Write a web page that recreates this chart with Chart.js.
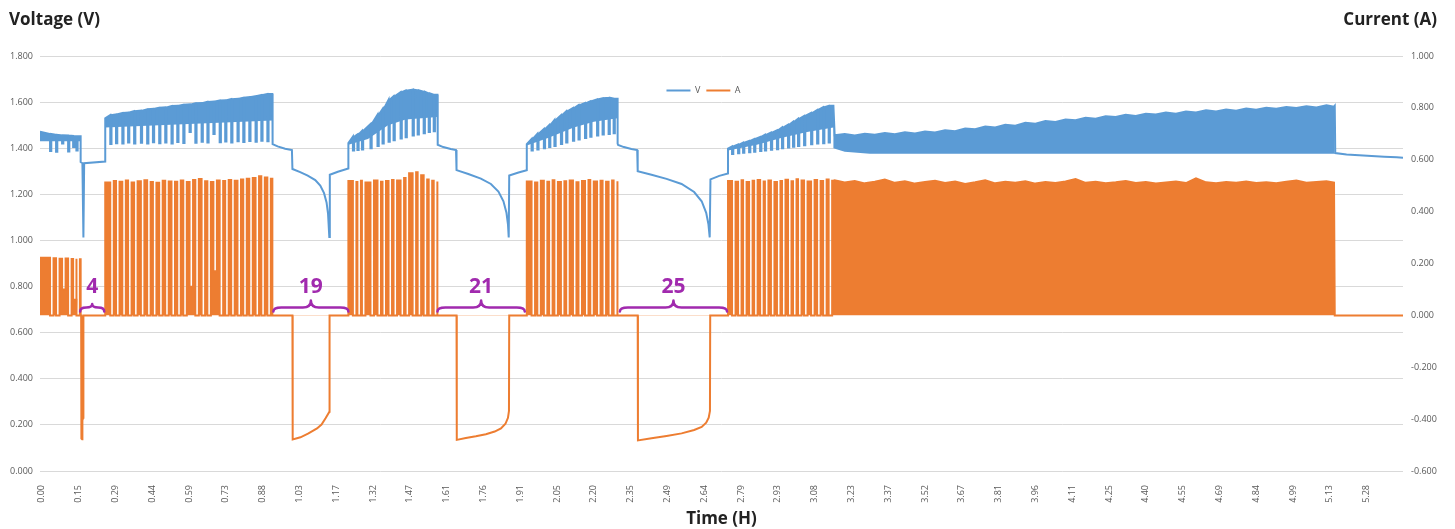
<!DOCTYPE html>
<html><head><meta charset="utf-8">
<script src="https://cdn.jsdelivr.net/npm/chart.js@4.4.1/dist/chart.umd.min.js"></script>
<style>html,body{margin:0;padding:0;background:#fff;}#wrap{position:relative;width:1455px;height:529px;}</style>
</head><body><div id="wrap"><canvas id="c"></canvas></div>
<script>
// ---------------- X axis tick labels (hours) ----------------
const timeTickLabels = ['0.00','0.15','0.29','0.44','0.59','0.73','0.88','1.03','1.17','1.32','1.47','1.61','1.76','1.91','2.05','2.20','2.35','2.49','2.64','2.79','2.93','3.08','3.23','3.37','3.52','3.67','3.81','3.96','4.11','4.25','4.40','4.55','4.69','4.84','4.99','5.13','5.28'];

// ---------------- Pulsed charge blocks (hours) ----------------
const blockStart = [-0.007, 0.253, 1.222, 1.933, 2.735];
const blockEnd   = [0.155, 0.919, 1.577, 2.295, 3.155];

// rest-gap times inside each block
const gaps1 = [0.033, 0.057, 0.081, 0.105, 0.125, 0.138];
const gaps2 = [0.273, 0.296, 0.321, 0.344, 0.368, 0.395, 0.420, 0.443, 0.468, 0.492, 0.517, 0.540, 0.564, 0.589, 0.612, 0.637, 0.660, 0.684, 0.709, 0.731, 0.755, 0.780, 0.803, 0.827, 0.852, 0.875, 0.899];
const gaps3 = [1.240, 1.258, 1.276, 1.310, 1.338, 1.358, 1.382, 1.402, 1.430, 1.450, 1.478, 1.498, 1.522, 1.542, 1.562];
const gaps4 = [1.952, 1.975, 2.001, 2.022, 2.043, 2.069, 2.090, 2.117, 2.139, 2.165, 2.186, 2.213, 2.235, 2.259, 2.279];
const gaps5 = [2.751, 2.775, 2.795, 2.819, 2.839, 2.863, 2.882, 2.906, 2.930, 2.950, 2.974, 2.994, 3.014, 3.038, 3.066, 3.090, 3.114, 3.136];

// ---------------- Current (A) ----------------
const aTop1 = [0.222, 0.220, 0.218, 0.219, 0.217, 0.218, 0.216];
const aFloor1 = [0, 0, 0.10, 0, 0.06, 0];
const aTop2 = [0.512, 0.518, 0.515, 0.520, 0.512, 0.517, 0.521, 0.514, 0.511, 0.519, 0.516, 0.515, 0.520, 0.514, 0.522, 0.526, 0.517, 0.514, 0.520, 0.518, 0.522, 0.519, 0.524, 0.527, 0.530, 0.536, 0.532, 0.527];
const aFloor2 = [0, 0, 0, 0, 0, 0, 0, 0, 0, 0, 0, 0, 0, 0.11, 0, 0, 0, 0.17, 0, 0, 0, 0, 0, 0, 0, 0, 0];
const aTop3 = [0.518, 0.514, 0.519, 0.512, 0.520, 0.515, 0.518, 0.522, 0.520, 0.530, 0.548, 0.552, 0.540, 0.524, 0.519, 0.516];
const aFloor3 = [0, 0, 0, 0, 0, 0, 0, 0, 0, 0, 0, 0, 0, 0, 0];
const aTop4 = [0.516, 0.512, 0.519, 0.515, 0.521, 0.514, 0.517, 0.520, 0.513, 0.518, 0.522, 0.516, 0.519, 0.515, 0.520, 0.517];
const aFloor4 = [0, 0, 0, 0, 0, 0, 0, 0, 0, 0, 0, 0, 0, 0, 0];
const aTop5 = [0.518, 0.515, 0.521, 0.514, 0.519, 0.522, 0.516, 0.520, 0.514, 0.518, 0.523, 0.517, 0.525, 0.520, 0.516, 0.522, 0.518, 0.524, 0.519];
const aFloor5 = [0, 0, 0, 0, 0, 0, 0, 0, 0, 0, 0, 0, 0, 0, 0, 0, 0, 0];

// rests and discharges between blocks
const aRest1T = [0.155, 0.157, 0.158, 0.161, 0.162, 0.165, 0.166, 0.253];
const aRest1  = [0, 0, -0.475, -0.478, -0.405, -0.395, 0, 0];
const aRest2T = [0.919, 0.999, 1.000, 1.031, 1.063, 1.097, 1.115, 1.131, 1.141, 1.146, 1.147, 1.222];
const aRest2  = [0, 0, -0.478, -0.470, -0.455, -0.436, -0.421, -0.397, -0.380, -0.372, 0, 0];
const aRest3T = [1.577, 1.653, 1.654, 1.690, 1.730, 1.770, 1.805, 1.830, 1.848, 1.858, 1.862, 1.863, 1.933];
const aRest3  = [0, 0, -0.480, -0.473, -0.466, -0.458, -0.448, -0.436, -0.418, -0.395, -0.368, 0, 0];
const aRest4T = [2.295, 2.375, 2.376, 2.430, 2.490, 2.550, 2.600, 2.630, 2.648, 2.658, 2.663, 2.664, 2.735];
const aRest4  = [0, 0, -0.482, -0.474, -0.465, -0.455, -0.442, -0.430, -0.414, -0.394, -0.368, 0, 0];

// long continuous charge (3.16 – 5.15 h): top edge
const steadyT = [3.16, 3.20, 3.24, 3.28, 3.32, 3.36, 3.40, 3.44, 3.48, 3.52, 3.56, 3.60, 3.64, 3.68, 3.72, 3.76, 3.80, 3.84, 3.88, 3.92, 3.96, 4.00, 4.04, 4.08, 4.12, 4.16, 4.20, 4.24, 4.28, 4.32, 4.36, 4.40, 4.44, 4.48, 4.52, 4.56, 4.60, 4.64, 4.68, 4.72, 4.76, 4.80, 4.84, 4.88, 4.92, 4.96, 5.00, 5.04, 5.08, 5.12, 5.15];
const aSteady = [0.521, 0.512, 0.518, 0.509, 0.515, 0.524, 0.511, 0.517, 0.508, 0.514, 0.519, 0.510, 0.516, 0.507, 0.513, 0.521, 0.509, 0.515, 0.511, 0.517, 0.508, 0.514, 0.510, 0.516, 0.526, 0.511, 0.515, 0.509, 0.513, 0.518, 0.510, 0.514, 0.508, 0.512, 0.516, 0.510, 0.528, 0.513, 0.509, 0.514, 0.511, 0.516, 0.510, 0.513, 0.509, 0.515, 0.520, 0.511, 0.514, 0.517, 0.512];
const aEndT = [5.153, 5.425];
const aEnd  = [0, 0];

// ---------------- Voltage (V) ----------------
const vTop1 = [1.472, 1.462, 1.458, 1.456, 1.455, 1.453, 1.452];
const vLow1 = [1.388, 1.385, 1.420, 1.386, 1.405, 1.390];
const vTop2 = [1.530, 1.544, 1.547, 1.553, 1.555, 1.561, 1.563, 1.569, 1.571, 1.576, 1.577, 1.583, 1.584, 1.589, 1.590, 1.595, 1.596, 1.601, 1.602, 1.607, 1.608, 1.613, 1.614, 1.619, 1.622, 1.626, 1.631, 1.635];
const vLow2 = [1.418, 1.422, 1.420, 1.425, 1.421, 1.424, 1.420, 1.426, 1.422, 1.425, 1.421, 1.427, 1.423, 1.470, 1.424, 1.428, 1.425, 1.462, 1.426, 1.429, 1.425, 1.430, 1.427, 1.431, 1.428, 1.432, 1.430];
const vTop3 = [1.422, 1.450, 1.460, 1.475, 1.505, 1.545, 1.570, 1.610, 1.625, 1.643, 1.650, 1.654, 1.651, 1.645, 1.638, 1.632];
const vLow3 = [1.390, 1.392, 1.395, 1.400, 1.410, 1.420, 1.428, 1.435, 1.442, 1.448, 1.455, 1.460, 1.465, 1.470, 1.474];
const vTop4 = [1.418, 1.440, 1.462, 1.483, 1.500, 1.522, 1.543, 1.560, 1.574, 1.587, 1.596, 1.604, 1.612, 1.617, 1.619, 1.615];
const vLow4 = [1.390, 1.395, 1.400, 1.405, 1.410, 1.418, 1.425, 1.432, 1.438, 1.444, 1.450, 1.455, 1.460, 1.462, 1.465];
const vTop5 = [1.398, 1.408, 1.416, 1.424, 1.432, 1.440, 1.449, 1.458, 1.468, 1.478, 1.490, 1.502, 1.515, 1.528, 1.540, 1.553, 1.566, 1.578, 1.584];
const vLow5 = [1.375, 1.378, 1.380, 1.382, 1.385, 1.388, 1.390, 1.393, 1.396, 1.400, 1.403, 1.406, 1.410, 1.413, 1.417, 1.420, 1.422, 1.425];

const vRest1T = [0.155, 0.162, 0.166, 0.169, 0.253];
const vRest1  = [1.340, 1.335, 1.013, 1.335, 1.342];
const vRest2T = [0.919, 0.921, 0.94, 0.97, 0.997, 0.999, 1.03, 1.06, 1.09, 1.11, 1.125, 1.135, 1.141, 1.146, 1.148, 1.18, 1.222];
const vRest2  = [1.425, 1.418, 1.408, 1.398, 1.392, 1.310, 1.296, 1.281, 1.262, 1.238, 1.205, 1.165, 1.115, 1.015, 1.285, 1.298, 1.312];
const vRest3T = [1.577, 1.579, 1.60, 1.63, 1.651, 1.653, 1.70, 1.75, 1.79, 1.82, 1.84, 1.852, 1.858, 1.861, 1.863, 1.90, 1.933];
const vRest3  = [1.420, 1.415, 1.405, 1.397, 1.392, 1.305, 1.288, 1.268, 1.245, 1.212, 1.170, 1.120, 1.070, 1.013, 1.282, 1.295, 1.305];
const vRest4T = [2.295, 2.297, 2.32, 2.35, 2.373, 2.375, 2.43, 2.49, 2.55, 2.60, 2.63, 2.648, 2.657, 2.662, 2.665, 2.70, 2.735];
const vRest4  = [1.420, 1.414, 1.405, 1.397, 1.392, 1.300, 1.285, 1.267, 1.245, 1.210, 1.170, 1.120, 1.070, 1.013, 1.265, 1.280, 1.290];
const vSteady = [1.456, 1.462, 1.455, 1.463, 1.458, 1.466, 1.461, 1.469, 1.464, 1.473, 1.468, 1.478, 1.474, 1.486, 1.482, 1.494, 1.490, 1.502, 1.498, 1.510, 1.506, 1.518, 1.514, 1.525, 1.521, 1.532, 1.528, 1.539, 1.535, 1.545, 1.540, 1.550, 1.546, 1.555, 1.550, 1.559, 1.555, 1.565, 1.559, 1.568, 1.563, 1.572, 1.567, 1.576, 1.571, 1.579, 1.574, 1.582, 1.577, 1.586, 1.580];
const vEndT = [5.153, 5.155, 5.20, 5.25, 5.30, 5.35, 5.40, 5.425];
const vEnd  = [1.584, 1.379, 1.373, 1.369, 1.366, 1.363, 1.361, 1.359];

// lower edge of the dense voltage oscillation band inside each charge block (null = no band)
const bandT = [-0.007, 0.155, 0.20, 0.253, 0.919, 1.00, 1.222, 1.30, 1.38, 1.45, 1.577, 1.70, 1.933, 2.02, 2.12, 2.20, 2.295, 2.50, 2.735, 2.85, 2.95, 3.05, 3.155, 3.155, 3.20, 3.30, 5.153];
const bandV = [1.43, 1.43, null, 1.49, 1.52, null, 1.415, 1.44, 1.50, 1.525, 1.535, null, 1.412, 1.445, 1.49, 1.515, 1.53, null, 1.39, 1.415, 1.445, 1.47, 1.49, 1.40, 1.385, 1.376, 1.376];

// ---------------- Annotations (rest-gap counts) ----------------
const braceStart = [0.153, 0.923, 1.577, 2.304];
const braceEnd   = [0.249, 1.222, 1.925, 2.731];
const braceLabels = ['4', '19', '21', '25'];

// ---------------- build point tables ----------------
// pulses: value runs from tops[i] to rise (voltage) or holds (current), drops to floors[i] during a gap
function pulseRun(t0, t1, gapTimes, tops, floors, gapWidth, rising) {
  const pts = [];
  let start = t0;
  tops.forEach((top, i) => {
    const end = i < gapTimes.length ? gapTimes[i] : t1;
    const endVal = rising && i + 1 < tops.length ? tops[i + 1] : top;
    pts.push({x: start, y: top}, {x: end, y: endVal});
    if (i < gapTimes.length) {
      pts.push({x: end, y: floors[i]}, {x: end + gapWidth, y: floors[i]});
      start = end + gapWidth;
    }
  });
  return pts;
}
// envelope of the pulses (no gaps)
function envelope(t0, t1, gapTimes, tops, gapWidth) {
  const pts = [];
  let start = t0;
  tops.forEach((top, i) => {
    const end = i < gapTimes.length ? gapTimes[i] : t1;
    const endVal = i + 1 < tops.length ? tops[i + 1] : top;
    pts.push({x: start, y: top}, {x: end, y: endVal});
    if (i < gapTimes.length) start = end + gapWidth;
  });
  return pts;
}
function pairs(ts, ys) { return ts.map((t, i) => ({x: t, y: ys[i]})); }
const brk = t => [{x: t, y: null}];

const GA = 0.014, GV = 0.005;
const currentPts = [].concat(
  pulseRun(blockStart[0], blockEnd[0], gaps1, aTop1, aFloor1, GA, false), pairs(aRest1T, aRest1),
  pulseRun(blockStart[1], blockEnd[1], gaps2, aTop2, aFloor2, GA, false), pairs(aRest2T, aRest2),
  pulseRun(blockStart[2], blockEnd[2], gaps3, aTop3, aFloor3, GA, false), pairs(aRest3T, aRest3),
  pulseRun(blockStart[3], blockEnd[3], gaps4, aTop4, aFloor4, GA, false), pairs(aRest4T, aRest4),
  pulseRun(blockStart[4], blockEnd[4], gaps5, aTop5, aFloor5, GA, false), pairs(steadyT, aSteady),
  pairs(aEndT, aEnd)
);
const voltagePts = [].concat(
  pulseRun(blockStart[0], blockEnd[0], gaps1, vTop1, vLow1, GV, true), pairs(vRest1T, vRest1),
  pulseRun(blockStart[1], blockEnd[1], gaps2, vTop2, vLow2, GV, true), pairs(vRest2T, vRest2),
  pulseRun(blockStart[2], blockEnd[2], gaps3, vTop3, vLow3, GV, true), pairs(vRest3T, vRest3),
  pulseRun(blockStart[3], blockEnd[3], gaps4, vTop4, vLow4, GV, true), pairs(vRest4T, vRest4),
  pulseRun(blockStart[4], blockEnd[4], gaps5, vTop5, vLow5, GV, true), pairs(steadyT, vSteady),
  pairs(vEndT, vEnd)
);
const bandTopPts = [].concat(
  envelope(blockStart[0], blockEnd[0], gaps1, vTop1, GV), brk(0.20),
  envelope(blockStart[1], blockEnd[1], gaps2, vTop2, GV), brk(1.00),
  envelope(blockStart[2], blockEnd[2], gaps3, vTop3, GV), brk(1.70),
  envelope(blockStart[3], blockEnd[3], gaps4, vTop4, GV), brk(2.50),
  envelope(blockStart[4], blockEnd[4], gaps5, vTop5, GV), pairs(steadyT, vSteady),
  pairs(vEndT.slice(0, 1), vEnd.slice(0, 1))
);
const bandLowPts = pairs(bandT, bandV);

const BLUE = '#5B9BD5', ORANGE = '#ED7D31', PURPLE = '#A12AAE', GRAY = '#595959';
Chart.defaults.font.family = '"Open Sans", sans-serif';

const tickStep = 5.28 / (timeTickLabels.length - 1);

const bracePlugin = {
  id: 'gapBraces',
  afterDatasetsDraw(chart) {
    const {ctx, scales: {x, y2}} = chart;
    const base = y2.getPixelForValue(0);
    ctx.save();
    ctx.strokeStyle = PURPLE; ctx.fillStyle = PURPLE;
    ctx.lineWidth = 2.5; ctx.lineCap = 'round'; ctx.lineJoin = 'round';
    braceStart.forEach((t0, i) => {
      const x0 = x.getPixelForValue(t0), x1 = x.getPixelForValue(braceEnd[i]);
      const xc = (x0 + x1) / 2, w = x1 - x0;
      const r = Math.min(8, w / 4);
      const yEnd = base - 4, yMid = base - 8, yTip = yMid - Math.min(7, w / 7);
      ctx.beginPath();
      ctx.moveTo(x0, yEnd);
      ctx.quadraticCurveTo(x0, yMid, x0 + r, yMid);
      ctx.lineTo(xc - r, yMid);
      ctx.quadraticCurveTo(xc, yMid, xc, yTip);
      ctx.quadraticCurveTo(xc, yMid, xc + r, yMid);
      ctx.lineTo(x1 - r, yMid);
      ctx.quadraticCurveTo(x1, yMid, x1, yEnd);
      ctx.stroke();
      ctx.font = 'bold 21px "Open Sans"';
      ctx.textAlign = 'center'; ctx.textBaseline = 'middle';
      ctx.fillText(braceLabels[i], xc, base - 28);
    });
    ctx.restore();
  }
};

const titlePlugin = {
  id: 'axisTitles',
  afterDraw(chart) {
    const ctx = chart.ctx;
    ctx.save();
    ctx.fillStyle = '#222';
    ctx.font = 'bold 17px "Open Sans"';
    ctx.textBaseline = 'alphabetic';
    ctx.textAlign = 'left';
    ctx.fillText('Voltage (V)', 9, 25);
    ctx.textAlign = 'right';
    ctx.fillText('Current (A)', 1437, 25);
    ctx.restore();
  }
};

const legendMover = {
  id: 'legendMover',
  afterLayout(chart) {
    const lg = chart.legend;
    const dy = 80 - lg.top;
    lg.top += dy; lg.bottom += dy;
    lg.left -= 24; lg.right -= 24;
  }
};

new Chart(document.getElementById('c'), {
  type: 'line',
  data: {
    datasets: [
      {
        label: 'V', data: voltagePts, yAxisID: 'y',
        borderColor: BLUE, backgroundColor: BLUE, borderWidth: 2,
        pointRadius: 0, tension: 0, fill: false
      },
      {
        label: 'V band', data: bandTopPts, yAxisID: 'y',
        borderColor: 'rgba(0,0,0,0)', backgroundColor: BLUE, borderWidth: 0,
        pointRadius: 0, tension: 0, spanGaps: false, fill: 2
      },
      {
        label: 'V band low', data: bandLowPts, yAxisID: 'y',
        borderColor: 'rgba(0,0,0,0)', backgroundColor: 'rgba(0,0,0,0)', borderWidth: 0,
        pointRadius: 0, tension: 0, spanGaps: false, fill: false
      },
      {
        label: 'A', data: currentPts, yAxisID: 'y2',
        borderColor: ORANGE, backgroundColor: ORANGE, borderWidth: 2,
        pointRadius: 0, tension: 0,
        fill: {target: 'origin', above: ORANGE, below: 'rgba(0,0,0,0)'}
      }
    ]
  },
  options: {
    responsive: true, maintainAspectRatio: false, animation: false, events: [],
    layout: {padding: {top: 31, left: 0, right: 0, bottom: 0}},
    plugins: {
      tooltip: {enabled: false},
      legend: {
        position: 'top', align: 'center',
        labels: {
          boxWidth: 24, boxHeight: 2, padding: 6, color: GRAY, font: {size: 9},
          filter: item => item.datasetIndex === 0 || item.datasetIndex === 3,
          generateLabels: chart => Chart.defaults.plugins.legend.labels.generateLabels(chart).map(l => Object.assign(l, {lineWidth: 0}))
        }
      }
    },
    scales: {
      x: {
        type: 'linear', min: -0.007, max: 5.425,
        grid: {display: false}, border: {display: false},
        afterBuildTicks: axis => { axis.ticks = timeTickLabels.map((l, i) => ({value: i * tickStep})); },
        afterFit: s => { s.height = 58; },
        ticks: {
          autoSkip: false, minRotation: 90, maxRotation: 90, padding: 6,
          color: GRAY, font: {size: 9},
          callback: (v, i) => timeTickLabels[i]
        },
        title: {display: true, text: 'Time (H)', color: '#222', font: {size: 17, weight: 'bold'}, padding: {top: 0, bottom: 0}}
      },
      y: {
        position: 'left', min: 0, max: 1.8,
        afterFit: s => { s.width = 40; },
        grid: {color: '#D9D9D9', lineWidth: 1, drawTicks: false},
        border: {display: false},
        ticks: {stepSize: 0.2, padding: 7, color: GRAY, font: {size: 9}, callback: v => Number(v).toFixed(3)}
      },
      y2: {
        position: 'right', min: -0.6, max: 1.0,
        afterFit: s => { s.width = 52; },
        grid: {display: false, drawTicks: false},
        border: {display: false},
        ticks: {stepSize: 0.2, padding: 8, color: GRAY, font: {size: 9}, callback: v => Number(v).toFixed(3)}
      }
    }
  },
  plugins: [bracePlugin, titlePlugin, legendMover]
});
</script></body></html>
